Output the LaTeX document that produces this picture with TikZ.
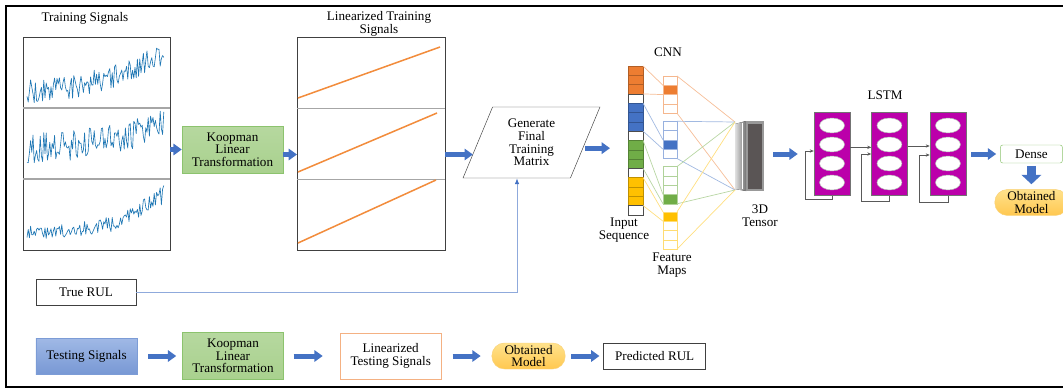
\documentclass[tikz,border=0pt]{standalone}
\usepackage{fontspec}
\setmainfont{Liberation Serif}
\usetikzlibrary{arrows.meta,positioning,shapes.geometric,calc}

\definecolor{sigblue}{RGB}{31,119,180}
\definecolor{fitorange}{RGB}{242,140,60}
\definecolor{koopgreen}{RGB}{169,209,142}
\definecolor{koopedge}{RGB}{140,195,110}
\definecolor{arrowblue}{RGB}{68,114,196}
\definecolor{rulblue}{RGB}{143,170,220}
\definecolor{testtop}{RGB}{160,185,230}
\definecolor{testbot}{RGB}{120,152,212}
\definecolor{cnnorange}{RGB}{237,125,49}
\definecolor{cnnblue}{RGB}{68,114,196}
\definecolor{cnngreen}{RGB}{112,173,71}
\definecolor{cnnyellow}{RGB}{255,192,0}
\definecolor{tensorgray}{RGB}{90,85,85}
\definecolor{lstmmag}{RGB}{187,0,170}
\definecolor{modeltop}{RGB}{255,226,140}
\definecolor{modelbot}{RGB}{255,200,80}
\definecolor{modeledge}{RGB}{250,210,120}
\definecolor{testedge}{RGB}{244,177,131}

\begin{document}
\begin{tikzpicture}[
        x=0.03cm, y=-0.03cm,
        font=\fontsize{11.2}{10.8}\selectfont,
        plotbox/.style={draw=black!75, minimum width=4.41cm, minimum height=2.13cm, inner sep=0pt, outer sep=0pt},
        fitbox/.style={draw=black!75, minimum width=4.44cm, minimum height=2.13cm, inner sep=0pt, outer sep=0pt},
        divider/.style={draw=black!35, line width=1.2pt},
        sigline/.style={draw=sigblue, line width=0.55pt, line join=round},
        fitline/.style={draw=fitorange, line width=1.3pt},
        koop/.style={draw=koopedge, top color=koopgreen!85, bottom color=koopgreen, align=center, minimum width=3.03cm, minimum height=1.41cm, inner sep=1pt},
        genbox/.style={draw=black!75, trapezium, trapezium left angle=69, trapezium right angle=111, trapezium stretches=true, align=center, minimum width=4.11cm, minimum height=2.13cm, inner sep=1pt},
        plain/.style={draw=black!75, fill=white, align=center, minimum width=3cm, minimum height=0.78cm},
        testbox/.style={draw=arrowblue!70, top color=testtop, bottom color=testbot, align=center, minimum width=3.03cm, minimum height=1.08cm},
        lintest/.style={draw=testedge, line width=0.8pt, fill=white, align=center, minimum width=3.03cm, minimum height=1.38cm},
        model/.style={draw=modeledge, top color=modeltop, bottom color=modelbot, rounded corners=0.38cm, align=center, minimum width=2.2cm, minimum height=0.78cm, inner sep=1pt},
        densebox/.style={draw=koopedge, rounded corners=2pt, fill=white, minimum width=1.86cm, minimum height=0.54cm, inner sep=1pt},
        inblock/.style={minimum width=0.45cm, minimum height=0.837cm, inner sep=0pt, outer sep=0pt},
        incell/.style={draw=black!70, fill=white, minimum width=0.45cm, minimum height=0.279cm, inner sep=0pt, outer sep=0pt},
        fmgroup/.style={fill=white, minimum width=0.42cm, minimum height=1.116cm, inner sep=0pt, outer sep=0pt},
        fmcell/.style={minimum width=0.42cm, minimum height=0.279cm, inner sep=0pt, outer sep=0pt},
        link/.style={line width=0.6pt},
        lstmcell/.style={draw=black!55, fill=lstmmag, minimum width=1.08cm, minimum height=2.49cm, inner sep=0pt},
        gate/.style={draw=black!30, fill=white, ellipse, minimum width=0.75cm, minimum height=0.45cm, inner sep=0pt},
        fb/.style={draw=black!65, line width=0.5pt, -{Stealth[length=1.2mm,width=1mm]}},
        bigarrow/.style={draw=arrowblue, line width=0.15cm, -{Triangle[width=0.34cm,length=0.25cm]}},
        downarrow/.style={draw=arrowblue, line width=0.26cm, -{Triangle[width=0.58cm,length=0.28cm]}},
        rulline/.style={draw=rulblue, line width=0.8pt, arrows={-{Latex[color=arrowblue,length=1.8mm,width=1.4mm]}}}
    ]
    \useasboundingbox (0,0) rectangle (1063,389);
    % outer frame
    \draw[line width=1.6pt] (1063,6) -- (6,6) -- (6,387) -- (1063,387);

    % raw signals
    \node at (85,18) {Training Signals};
    \node[plotbox] (sig1) at (96.5,72.5) {};
    \node[plotbox, below=0cm of sig1] (sig2) {};
    \node[plotbox, below=0cm of sig2] (sig3) {};
    \draw[divider] (sig1.south west) -- (sig1.south east);
    \draw[divider] (sig2.south west) -- (sig2.south east);
    \pgfmathsetseed{12}
    \draw[sigline] plot[domain=0:1, samples=115] ({27+137*\x}, {91-38*\x*\x+12*rand});
    \draw[sigline] plot[domain=0:1, samples=115] ({27+137*\x}, {148-24*\x*\x+15*rand});
    \draw[sigline] plot[domain=0:1, samples=115] ({27+137*\x}, {232-38*\x*\x*\x+(6+4*\x)*rand});

    \node[koop] (koop1) at (232.5,149.5) {Koopman\\Linear\\Transformation};

    % linearized signals
    \node[align=center] at (379,24) {Linearized Training\\Signals};
    \node[fitbox] (lin1) at (371,144) {};
    \node[fitbox, above=0cm of lin1] (lin0) {};
    \node[fitbox, below=0cm of lin1] (lin2) {};
    \draw[divider] (lin0.south west) -- (lin0.south east);
    \draw[divider] (lin1.south west) -- (lin1.south east);
    \draw[fitline] (298,98) -- (440,47);
    \draw[fitline] (298,172) -- (437,113);
    \draw[fitline] (298,243) -- (436,180);

    \node[genbox] (gen) at (531.5,142.5) {Generate\\Final\\Training\\Matrix};

    \node[plain] (rul) at (86,292) {True RUL};

    % CNN
    \node at (668,52) {CNN};
    \node[inner sep=0pt, outer sep=0pt, minimum width=0.84cm, minimum height=2.04cm] (tensor) at (749,156) {};
    \foreach \col/\pos [count=\k from 0] in {cnnorange/1,cnnblue/2,cnngreen/3,cnnyellow/0} {
        \pgfmathsetmacro\yi{66+37.2*\k}
        \pgfmathsetmacro\yf{76+45.3*\k}
        \pgfmathsetmacro\yc{\yf+9.3*\pos}
        \node[inblock, fill=\col, draw=\col!75!black, anchor=north west] (in\k) at (628,\yi) {};
        \node[incell, anchor=north west] (gap\k) at (in\k.south west) {};
        \foreach \j in {1,2}
            \draw[\col!75!black, line width=0.3pt] ([yshift=-\j*0.279cm]in\k.north west) -- ([yshift=-\j*0.279cm]in\k.north east);
        \node[fmgroup, draw=\col!55, anchor=north west] (fm\k) at (663,\yf) {};
        \foreach \j in {1,2,3}
            \draw[\col!55] ([yshift=-\j*0.279cm]fm\k.north west) -- ([yshift=-\j*0.279cm]fm\k.north east);
        \node[fmcell, fill=\col, draw=\col!55, anchor=north west] (fc\k) at (663,\yc) {};
        \draw[link, \col!50] (in\k.north east) -- (fc\k.north west);
        \draw[link, \col!50] (in\k.south east) -- (fc\k.south west);
        \draw[link, \col!50] (fm\k.north east) -- (tensor.north west);
        \draw[link, \col!50] (fm\k.south east) -- (tensor.south west);
    }
    % 3D tensor block
    \fill[left color=black!12, right color=black!55] (735,124) -- (746,121) -- (746,191) -- (735,189) -- cycle;
    \draw[white, line width=0.8pt] (742,123) -- (742,189);
    \fill[black!40] (746,121) rectangle (764,191);
    \fill[tensorgray] (748,124) rectangle (762,189);
    \node[align=center] at (624,230) {Input\\Sequence};
    \node[align=center] at (672,265) {Feature\\Maps};
    \node[align=center] at (760,216) {3D\\Tensor};

    % LSTM
    \node at (885,95) {LSTM};
    \node[lstmcell] (l1) at (832,154) {};
    \node[lstmcell, right=0.63cm of l1] (l2) {};
    \node[lstmcell, right=0.66cm of l2] (l3) {};
    \foreach \n in {l1,l2,l3}
        \foreach \dy in {-28.5,-9.5,9.5,28.5}
            \node[gate] at ($(\n)+(0,\dy)$) {};
    \draw[fb] (l1.south) -- ++(0,4) -- ++(-27,0) |- ([yshift=0.09cm]l1.west);
    \draw[fb] ([yshift=0.2cm]l1.east) -- ([yshift=0.2cm]l1.east -| l2.west);
    \draw[fb] (l2.south) -- ++(0,6) -- ++(-28,0) |- (l2.west);
    \draw[fb] ([yshift=0.24cm]l2.east) -- ([yshift=0.24cm]l2.east -| l3.west);
    \draw[fb] (l3.south) -- ++(0,7) -- ++(-29,0) |- ([yshift=-0.03cm]l3.west);

    \node[densebox, right=1.02cm of l3] (dense) {Dense};
    \node[model, below=0.78cm of dense] (obt) {Obtained\\Model};

    % testing row
    \node[testbox] (test) at (86.5,356) {Testing Signals};
    \node[koop, right=1.35cm of test] (koop2) {Koopman\\Linear\\Transformation};
    \node[lintest, right=1.68cm of koop2] (lintst) {Linearized\\Testing Signals};
    \node[model, right=1.5cm of lintst] (obt2) {Obtained\\Model};
    \node[plain, minimum width=3.06cm, right=1.14cm of obt2] (pred) {Predicted RUL};

    % arrows
    \draw[bigarrow] (sig2.east |- koop1.west) -- (koop1.west);
    \draw[bigarrow] ([yshift=-0.15cm]koop1.east) -- ([yshift=-0.15cm]koop1.east -| lin1.west);
    \draw[bigarrow, shorten >=0.14cm] ([yshift=-0.36cm]gen.west -| lin1.east) -- ([yshift=-0.36cm]gen.west);
    \draw[bigarrow, shorten >=0.54cm] ([yshift=-0.17cm]gen.east) -- ([yshift=-0.17cm]gen.east -| in0.west);
    \draw[bigarrow, shorten <=0.3cm, shorten >=0.48cm] (tensor.east |- l1.west) -- (l1.west);
    \draw[bigarrow, shorten <=0.15cm, shorten >=0.12cm] (l3.east) -- (dense.west);
    \draw[downarrow, shorten <=0.08cm, shorten >=0.15cm] (dense.south) -- (obt.north);
    \draw[rulline] (rul.east) -| ([xshift=-0.435cm]gen.south);

    \draw[bigarrow, shorten <=0.33cm, shorten >=0.18cm] (test.east) -- (koop2.west);
    \draw[bigarrow, shorten <=0.3cm, shorten >=0.51cm] (koop2.east) -- (lintst.west);
    \draw[bigarrow, shorten <=0.33cm, shorten >=0.33cm] (lintst.east) -- (obt2.west);
    \draw[bigarrow, shorten <=0.18cm, shorten >=0.12cm] (obt2.east) -- (pred.west);
\end{tikzpicture}
\end{document}
